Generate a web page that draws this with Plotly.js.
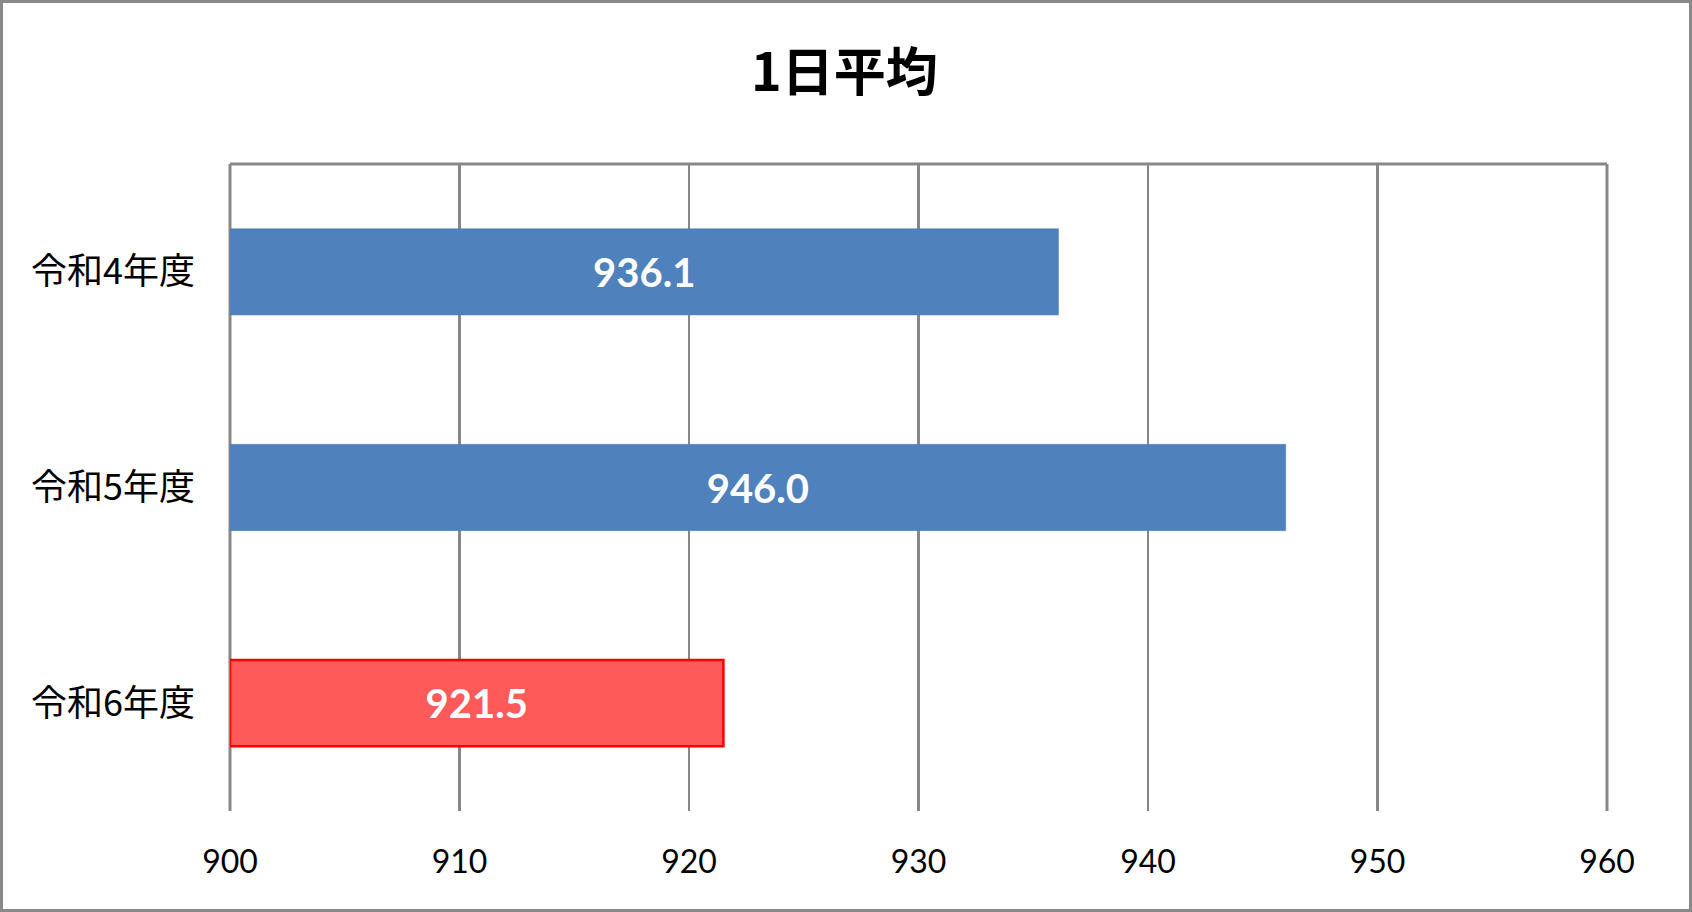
<!DOCTYPE html>
<html>
<head>
<meta charset="utf-8">
<script src="https://cdn.plot.ly/plotly-3.0.1.min.js"></script>
<style>
  html, body { margin: 0; padding: 0; background: #ffffff; }
  #wrap { position: relative; width: 1692px; height: 912px; }
  #chart { width: 1692px; height: 912px; }
  #frame { position: absolute; left: 0; top: 0; width: 1692px; height: 912px;
           box-sizing: border-box; border: 3px solid #898989; pointer-events: none; }
</style>
</head>
<body>
<div id="wrap">
  <div id="chart"></div>
  <div id="frame"></div>
</div>
<script>
const categories = ["令和4年度", "令和5年度", "令和6年度"];
const values = [936.1, 946.0, 921.5];
const tickValues = [900, 910, 920, 930, 940, 950, 960];
const chartTitle = "1日平均";

const axisMin = tickValues[0];
const axisMax = tickValues[tickValues.length - 1];

const fillColors = ["#4F81BD", "#4F81BD", "#FF5A5A"];
const lineColors = ["#4F81BD", "#4F81BD", "#FF0000"];
const lineWidths = [0.5, 0.5, 2.5];

// Bars drawn from the axis minimum (as in the original chart) so the
// value label sits in the middle of the visible bar.
const trace = {
  type: "bar",
  orientation: "h",
  y: categories,
  base: axisMin,
  x: values.map(v => v - axisMin),
  customdata: values,
  width: 0.4,
  marker: { color: fillColors, line: { color: lineColors, width: lineWidths } },
  texttemplate: "%{customdata:.1f}",
  textposition: "inside",
  insidetextanchor: "middle",
  textangle: 0,
  textfont: { family: "Lato, 'Open Sans', sans-serif", size: 40, color: "#ffffff", weight: 700 },
  constraintext: "none",
  hoverinfo: "skip"
};

const layout = {
  width: 1692,
  height: 912,
  margin: { l: 230, r: 85, t: 164, b: 101 },
  paper_bgcolor: "#ffffff",
  plot_bgcolor: "#ffffff",
  showlegend: false,
  title: {
    text: "<b>" + chartTitle + "</b>",
    x: 0.499, xanchor: "center",
    y: 0.92, yanchor: "middle",
    font: { family: "'Noto Sans CJK JP', sans-serif", size: 52, color: "#000000" }
  },
  xaxis: {
    range: [axisMin, axisMax],
    tickvals: tickValues,
    ticktext: tickValues.map(String),
    showgrid: true,
    gridcolor: "#878787",
    gridwidth: 2.5,
    zeroline: false,
    showline: false,
    ticks: "",
    ticklabelstandoff: 29,
    tickfont: { family: "Lato, 'Open Sans', sans-serif", size: 32, color: "#000000" },
    fixedrange: true
  },
  yaxis: {
    autorange: "reversed",
    type: "category",
    showgrid: false,
    zeroline: false,
    showline: false,
    ticks: "",
    ticklabelstandoff: 34,
    tickfont: { family: "'Noto Sans CJK JP', sans-serif", size: 36, color: "#000000" },
    fixedrange: true
  },
  shapes: [
    { type: "line", xref: "paper", yref: "paper", x0: 0, x1: 1, y0: 1, y1: 1,
      line: { color: "#878787", width: 3 }, layer: "below" },
    { type: "line", xref: "paper", yref: "paper", x0: 0, x1: 0, y0: 0, y1: 1,
      line: { color: "#878787", width: 3 }, layer: "below" },
    { type: "line", xref: "paper", yref: "paper", x0: 1, x1: 1, y0: 0, y1: 1,
      line: { color: "#878787", width: 3 }, layer: "below" }
  ]
};

Plotly.newPlot("chart", [trace], layout, { displayModeBar: false, staticPlot: true });
</script>
</body>
</html>
